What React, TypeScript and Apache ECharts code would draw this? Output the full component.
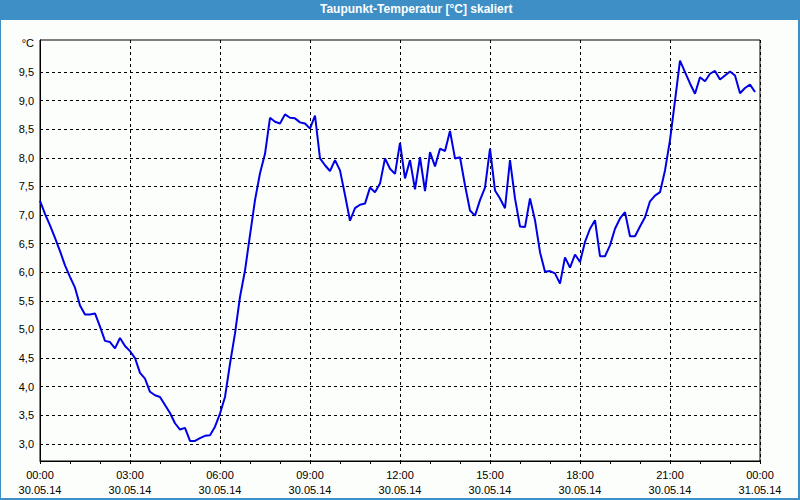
import React, { useEffect, useRef } from "react";
import * as echarts from "echarts";

const TITLE = "Taupunkt-Temperatur [°C] skaliert";
const UNIT = "°C";
const SAMPLE_MINUTES = 10;
const DATE_DAY1 = "30.05.14";
const DATE_DAY2 = "31.05.14";
const Y_TICKS = [3.0, 3.5, 4.0, 4.5, 5.0, 5.5, 6.0, 6.5, 7.0, 7.5, 8.0, 8.5, 9.0, 9.5];
const Y_UNIT_POS = 10.0;
const X_TICKS_HOURS = [0, 3, 6, 9, 12, 15, 18, 21, 24];

// Dew point every 10 minutes, 30.05.14 00:00 - 23:50
const dewPoint = [
  7.25, 7.02, 6.82, 6.6, 6.37, 6.12, 5.92, 5.73, 5.42, 5.26,
  5.26, 5.28, 5.05, 4.8, 4.78, 4.67, 4.85, 4.71, 4.62, 4.5,
  4.24, 4.14, 3.91, 3.85, 3.82, 3.68, 3.54, 3.36, 3.25, 3.28,
  3.05, 3.05, 3.1, 3.14, 3.15, 3.3, 3.53, 3.82, 4.4, 4.93,
  5.57, 6.03, 6.65, 7.26, 7.73, 8.07, 8.7, 8.63, 8.6, 8.76,
  8.7, 8.69, 8.62, 8.6, 8.51, 8.74, 7.99, 7.87, 7.77, 7.96,
  7.78, 7.35, 6.9, 7.12, 7.18, 7.2, 7.48, 7.4, 7.55, 7.99,
  7.81, 7.72, 8.26, 7.64, 7.96, 7.45, 8.01, 7.42, 8.1, 7.85,
  8.16, 8.12, 8.47, 7.99, 8.01, 7.52, 7.08, 6.99, 7.26, 7.48,
  8.16, 7.43, 7.29, 7.12, 7.96, 7.29, 6.8, 6.79, 7.29, 6.91,
  6.35, 6.01, 6.02, 5.98, 5.8, 6.26, 6.08, 6.31, 6.18, 6.53,
  6.76, 6.91, 6.28, 6.28, 6.47, 6.76, 6.94, 7.05, 6.63, 6.63,
  6.8, 6.96, 7.24, 7.34, 7.4, 7.78, 8.31, 9.0, 9.7, 9.5,
  9.3, 9.12, 9.41, 9.34, 9.47, 9.52, 9.37, 9.44, 9.51, 9.44,
  9.13, 9.22, 9.28, 9.15,
];

const FRAME_BLUE = "#3d8fc6";
const FONT = "'Liberation Sans', Arial, sans-serif";

export default function App() {
  const ref = useRef<HTMLDivElement>(null);

  useEffect(() => {
    document.body.style.margin = "0";
    if (!ref.current) return;
    const chart = echarts.init(ref.current, null, { renderer: "svg" });

    const seriesData = dewPoint.map((v, i) => [(i * SAMPLE_MINUTES) / 60, v]);

    const fmtHour = (h: number) => {
      const hh = String(Math.round(h) % 24).padStart(2, "0");
      return `${hh}:00\n${h >= 24 ? DATE_DAY2 : DATE_DAY1}`;
    };

    chart.setOption({
      animation: false,
      backgroundColor: "#fcfefc",
      title: {
        text: TITLE,
        left: 320,
        top: 3,
        padding: 0,
        textStyle: {
          color: "#ffffff",
          fontSize: 12,
          fontWeight: "bold",
          fontFamily: FONT,
        },
      },
      graphic: [
        { type: "rect", left: 0, top: 0, shape: { width: 800, height: 20 }, style: { fill: FRAME_BLUE }, z: -1 },
        { type: "rect", left: 0, top: 0, shape: { width: 1, height: 500 }, style: { fill: FRAME_BLUE } },
        { type: "rect", right: 0, top: 0, shape: { width: 2, height: 500 }, style: { fill: FRAME_BLUE } },
        { type: "rect", left: 0, bottom: 0, shape: { width: 800, height: 2 }, style: { fill: FRAME_BLUE } },
      ],
      grid: {
        left: 40,
        right: 40,
        top: 40,
        bottom: 39,
        show: true,
        borderColor: "#000",
        borderWidth: 1,
        backgroundColor: "transparent",
      },
      xAxis: {
        type: "value",
        min: X_TICKS_HOURS[0],
        max: X_TICKS_HOURS[X_TICKS_HOURS.length - 1],
        interval: 3,
        axisLine: { show: true, lineStyle: { color: "#000", width: 1 } },
        axisTick: { show: true, length: 3, lineStyle: { color: "#000" } },
        minorTick: { show: true, splitNumber: 3, length: 3, lineStyle: { color: "#000" } },
        splitLine: { show: true, lineStyle: { color: "#000", type: [3, 3], width: 1 } },
        axisLabel: {
          formatter: (v: number) => fmtHour(v),
          color: "#000",
          fontSize: 11,
          fontFamily: FONT,
          lineHeight: 15,
          margin: 6,
          showMaxLabel: true,
          showMinLabel: true,
        },
      },
      yAxis: {
        type: "value",
        min: 2.7,
        max: 10.06,
        axisLine: { show: true, lineStyle: { color: "#000", width: 1 } },
        axisTick: { show: false, customValues: Y_TICKS },
        splitLine: { show: true, lineStyle: { color: "#000", type: [3, 3], width: 1 } },
        axisLabel: {
          customValues: [...Y_TICKS, Y_UNIT_POS],
          formatter: (v: number) =>
            Math.abs(v - Y_UNIT_POS) < 1e-6 ? UNIT : v.toFixed(1).replace(".", ","),
          color: "#000",
          fontSize: 11,
          fontFamily: FONT,
          margin: 6,
        },
      },
      series: [
        {
          type: "line",
          data: seriesData,
          showSymbol: false,
          symbol: "none",
          lineStyle: { color: "#0000e6", width: 2 },
          z: 3,
        },
      ],
    });

    return () => chart.dispose();
  }, []);

  return <div ref={ref} style={{ width: 800, height: 500 }} />;
}
